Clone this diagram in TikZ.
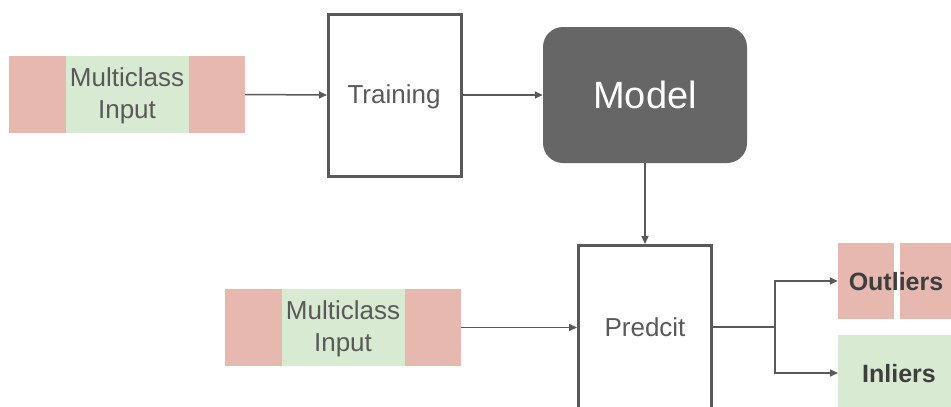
\documentclass[tikz,border=0pt]{standalone}
\usepackage{fontspec}
\setmainfont{Liberation Sans}
\usetikzlibrary{arrows.meta}
\definecolor{redc}{HTML}{E6B8AF}
\definecolor{greenc}{HTML}{D9EAD3}
\definecolor{linec}{HTML}{595959}
\definecolor{txt}{HTML}{595959}
\definecolor{modelc}{HTML}{666666}
\tikzset{
  arr/.style={draw=linec, line width=1.5pt, -{Triangle[length=8pt,width=7pt]}},
  ln/.style={draw=linec, line width=1.5pt},
  procbox/.style={draw=linec, line width=3pt, fill=white, minimum width=133pt, inner sep=0pt},
  proctxt/.style={text=txt, font=\fontsize{26}{30}\selectfont, inner sep=0pt},
  inbox/.style={fill=greenc, minimum width=236pt, minimum height=77pt, inner sep=0pt},
  intxt/.style={text=txt, align=center, font=\fontsize{26}{32}\selectfont, inner sep=0pt},
  redpart/.style={fill=redc},
  outtxt/.style={text=txt!70!black, font=\bfseries\fontsize{25}{30}\selectfont, inner sep=0pt}
}
\begin{document}
\begin{tikzpicture}[x=1pt,y=-1pt]
\useasboundingbox (0,0) rectangle (951,407);
% input 1
\node[inbox] (in1) at (127,94.5) {};
\fill[redpart] (9,56) rectangle (66,133);
\fill[redpart] (189,56) rectangle (245,133);
\node[intxt] (in1t) at (127,96) {Multiclass\\Input};
% training
\node[procbox, minimum height=162pt] (train) at (395,95) {};
\node[proctxt] (traint) at (394,97) {Training};
% model
\node[fill=modelc, rounded corners=20pt, minimum width=204pt, minimum height=136pt, inner sep=0pt, text=white, font=\fontsize{38}{42}\selectfont] (model) at (645,95) {Model};
% predict
\clip (0,0) rectangle (951,407);
\node[procbox, minimum height=200pt, anchor=north] (pred) at (645,244) {};
\node[proctxt] (predt) at (645,327) {Predcit};
% input 2
\node[inbox] (in2) at (343,327.5) {};
\fill[redpart] (225,289) rectangle (282,366);
\fill[redpart] (405,289) rectangle (461,366);
\node[intxt] (in2t) at (343,329) {Multiclass\\Input};
% outputs
\fill[redpart] (838,243) rectangle (894,319);
\fill[redpart] (900,243) rectangle (951,319);
\node[minimum width=113pt, minimum height=76pt, inner sep=0pt] (outl) at (894.5,281) {};
\node[outtxt] (outlt) at (896,282) {Outliers};
\node[fill=greenc, minimum width=113pt, minimum height=80pt, inner sep=0pt, anchor=north west] (inl) at (838,335) {};
\node[outtxt] (inlt) at (899,374) {Inliers};
% connectors
\draw[arr] (in1.east) -- (train.west);
\draw[arr] (train.east) -- (model.west);
\draw[arr] (model.south) -- (pred.north);
\draw[arr] (in2.east) -- (pred.west |- in2.east);
\coordinate (split) at (775,327);
\draw[ln] (pred.east |- split) -- (split);
\draw[arr] (split) |- (outl.west);
\draw[arr] (split) |- (inl.west |- 0,373);
\end{tikzpicture}
\end{document}
